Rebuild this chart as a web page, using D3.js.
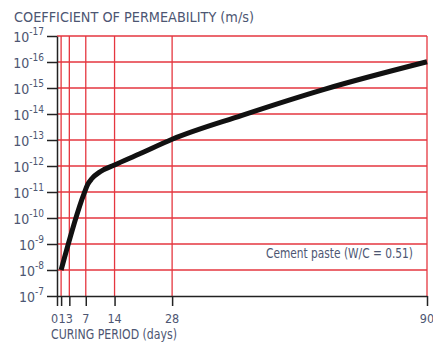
<!DOCTYPE html>
<html>
<head>
<meta charset="utf-8">
<script src="https://cdn.jsdelivr.net/npm/d3@7"></script>
<style>
  body { margin: 0; background: #fff; }
  text { font-family: "Liberation Sans Narrow", "DejaVu Sans Condensed", sans-serif; fill: #4d5672; }
</style>
</head>
<body>
<div class="chart"></div>
<script>
// curing days shown on the x axis
var dayTicks = [0, 1, 3, 7, 14, 28, 90];
// exponents of the coefficient of permeability (m/s) on the y axis
var expTicks = [-17, -16, -15, -14, -13, -12, -11, -10, -9, -8, -7];

// curve: day and exponent of permeability
var curveDays = [1, 6.6, 7.5, 8.5, 10.5, 14, 20, 28, 45, 65, 90];
var curveExps = [-8.0, -10.95, -11.3, -11.52, -11.78, -12.04, -12.46, -13.03, -13.95, -14.95, -16.01];

var titleText = "COEFFICIENT OF PERMEABILITY (m/s)";
var xLabelText = "CURING PERIOD (days)";
var noteText = "Cement paste (W/C = 0.51)";

// set the dimensions and margins of the graph
var margin = { top: 36, right: 6, bottom: 47, left: 57 },
    width = 433 - margin.left - margin.right,
    height = 343 - margin.top - margin.bottom;

var svg = d3.select(".chart")
    .append("svg")
    .attr("width", width + margin.left + margin.right)
    .attr("height", height + margin.top + margin.bottom)
    .append("g")
    .attr("transform", "translate(" + margin.left + "," + margin.top + ")");

var x = d3.scaleLinear()
    .domain([0, 90])
    .range([0, width]);

var y = d3.scaleLog()
    .domain([1e-7, 1e-17])
    .range([height, 0]);

var red = "#e5363f";

// red grid
svg.selectAll(".hgrid")
    .data(expTicks.filter(function (e) { return e !== -7; }))
    .enter()
    .append("line")
    .attr("x1", 0)
    .attr("x2", width)
    .attr("y1", function (e) { return y(Math.pow(10, e)); })
    .attr("y2", function (e) { return y(Math.pow(10, e)); })
    .attr("stroke", red)
    .attr("stroke-width", 1.3);

svg.selectAll(".vgrid")
    .data(dayTicks.filter(function (d) { return d !== 0; }))
    .enter()
    .append("line")
    .attr("x1", function (d) { return x(d); })
    .attr("x2", function (d) { return x(d); })
    .attr("y1", 0)
    .attr("y2", height)
    .attr("stroke", red)
    .attr("stroke-width", 1.3);

// Add X axis
svg.append("g")
    .attr("transform", "translate(0," + height + ")")
    .call(d3.axisBottom(x).tickValues(dayTicks).tickSize(10).tickSizeOuter(0).tickFormat(""));

// Add Y axis
svg.append("g")
    .call(d3.axisLeft(y)
        .tickValues(expTicks.map(function (e) { return Math.pow(10, e); }))
        .tickSize(10).tickSizeOuter(0).tickFormat(""));

svg.selectAll(".domain, .tick line")
    .attr("stroke", "#222")
    .attr("stroke-width", 1.5);

// y labels as 10 with a superscript exponent
var yLab = svg.selectAll(".ylab")
    .data(expTicks)
    .enter()
    .append("text")
    .attr("x", -13)
    .attr("y", function (e) { return y(Math.pow(10, e)) + 6; })
    .attr("text-anchor", "end")
    .style("font-size", "14px");
yLab.append("tspan").text("10");
yLab.append("tspan")
    .attr("dy", -7)
    .style("font-size", "10px")
    .text(function (e) { return "-" + Math.abs(e); });

// x labels
svg.selectAll(".xlab")
    .data(dayTicks)
    .enter()
    .append("text")
    .attr("x", function (d) { return x(d); })
    .attr("dx", function (d) { return d === 0 ? -2.5 : (d === 1 ? 1 : 0); })
    .attr("y", height + 27)
    .attr("text-anchor", "middle")
    .style("font-size", "12.5px")
    .text(function (d) { return d; });

svg.append("text")
    .attr("x", -6)
    .attr("y", height + 43)
    .attr("textLength", 126)
    .attr("lengthAdjust", "spacingAndGlyphs")
    .style("font-size", "14px")
    .text(xLabelText);

svg.append("text")
    .attr("x", -43)
    .attr("y", -14)
    .attr("textLength", 240)
    .attr("lengthAdjust", "spacingAndGlyphs")
    .style("font-size", "14px")
    .text(titleText);

svg.append("text")
    .attr("x", width - 161)
    .attr("y", y(Math.pow(10, -8.45)))
    .attr("textLength", 147)
    .attr("lengthAdjust", "spacingAndGlyphs")
    .style("font-size", "13.5px")
    .text(noteText);

// the curve
var line = d3.line()
    .x(function (d, i) { return x(curveDays[i]); })
    .y(function (d) { return y(Math.pow(10, d)); })
    .curve(d3.curveMonotoneX);

svg.append("path")
    .datum(curveExps)
    .attr("fill", "none")
    .attr("stroke", "#111")
    .attr("stroke-width", 5)
    .attr("stroke-linecap", "butt")
    .attr("d", line);
</script>
</body>
</html>
